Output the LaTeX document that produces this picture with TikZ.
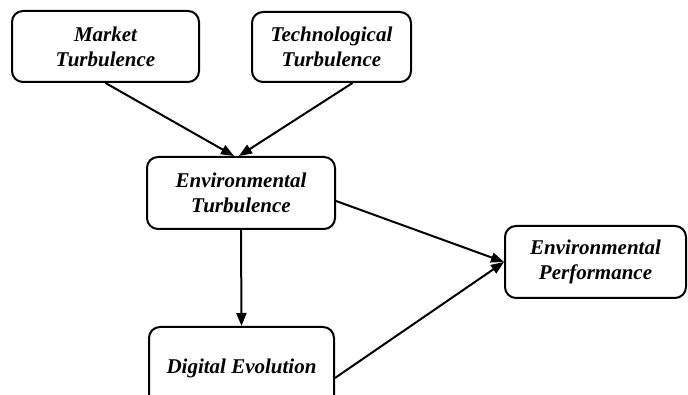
\documentclass[tikz,border=0pt]{standalone}
\usepackage{fontspec}
\setmainfont{Liberation Serif}
\usetikzlibrary{arrows.meta}
\begin{document}
\begin{tikzpicture}[x=1pt,y=1pt,
  box/.style={draw=black, line width=2pt, rounded corners=11pt, align=center,
    font=\fontsize{21}{25}\selectfont\bfseries\itshape, inner sep=0pt},
  conn/.style={line width=2pt, -{Triangle[length=13pt,width=10pt]}}]
\useasboundingbox (0,0) rectangle (688,395);
\node[box, minimum width=187pt, minimum height=71pt] (mt) at (105.5,348.5) {Market\\Turbulence};
\node[box, minimum width=159pt, minimum height=70pt] (tt) at (331.5,348) {Technological\\Turbulence};
\node[box, minimum width=188pt, minimum height=72pt] (et) at (241,202) {Environmental\\Turbulence};
\node[box, minimum width=181pt, minimum height=72pt] (ep) at (595.5,133) {Environmental\\Performance};
\node[box, minimum width=185pt, minimum height=82pt] (de) at (241.5,27) {Digital Evolution};
\draw[conn] (mt.south) -- ([xshift=-7pt]et.north);
\draw[conn] ([xshift=21pt]tt.south) -- ([xshift=-2pt]et.north);
\draw[conn] ([yshift=-8pt]et.east) -- (ep.west);
\draw[conn] (et.south) -- (de.north);
\draw[conn] ([yshift=-10pt]de.east) -- (ep.west);
\end{tikzpicture}
\end{document}
